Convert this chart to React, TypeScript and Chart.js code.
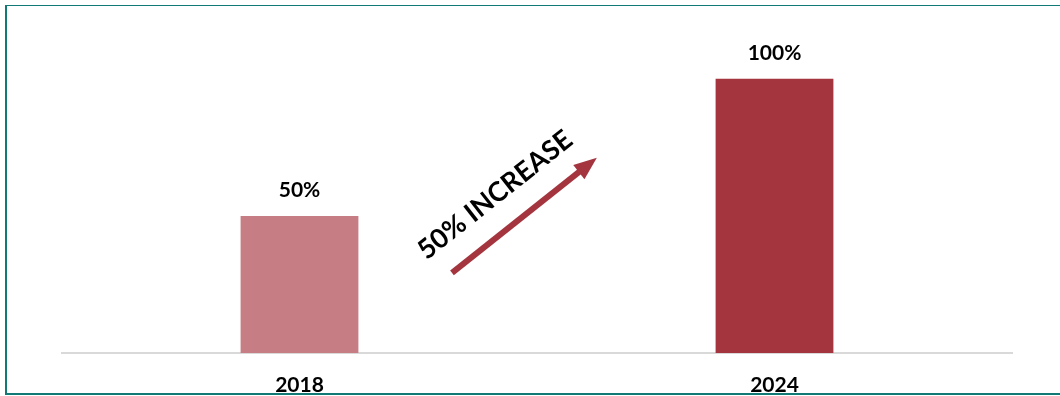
import React, { useEffect, useRef } from "react";
import { Chart, registerables } from "chart.js";

Chart.register(...registerables);

const categories = ["2018", "2024"];
const values = [50, 100];
const valueLabels = ["50%", "100%"];
const barColors = ["#c67d84", "#a4353f"];
const arrowText = "50% INCREASE";

// annotation placement (fraction between category centres, value on y scale)
const ARROW_START = { f: 0.321, v: 29.2 };
const ARROW_END = { f: 0.626, v: 71.2 };
const TEXT_POS = { f: 0.412, v: 57.6 };
const FONT = "Lato, 'Open Sans', sans-serif";

const overlayPlugin = {
  id: "overlay",
  afterDatasetsDraw(chart: any) {
    const ctx = chart.ctx;
    const meta = chart.getDatasetMeta(0);
    ctx.save();
    // value labels
    ctx.fillStyle = "#000";
    ctx.font = `bold 21px ${FONT}`;
    ctx.textAlign = "center";
    ctx.textBaseline = "middle";
    meta.data.forEach((bar: any, i: number) => {
      ctx.fillText(valueLabels[i], bar.x, bar.y - 26);
    });
    // arrow
    const xs = chart.scales.x;
    const ys = chart.scales.y;
    const x0 = xs.getPixelForValue(0);
    const x1 = xs.getPixelForValue(1);
    const d = x1 - x0;
    const sx = x0 + ARROW_START.f * d;
    const sy = ys.getPixelForValue(ARROW_START.v);
    const ex = x0 + ARROW_END.f * d;
    const ey = ys.getPixelForValue(ARROW_END.v);
    const ang = Math.atan2(ey - sy, ex - sx);
    const headLen = 23;
    const headHalf = 9;
    const bx = ex - headLen * Math.cos(ang);
    const by = ey - headLen * Math.sin(ang);
    ctx.strokeStyle = "#a4353f";
    ctx.fillStyle = "#a4353f";
    ctx.lineWidth = 6;
    ctx.lineCap = "butt";
    ctx.beginPath();
    ctx.moveTo(sx, sy);
    ctx.lineTo(bx + 2 * Math.cos(ang), by + 2 * Math.sin(ang));
    ctx.stroke();
    ctx.beginPath();
    ctx.moveTo(ex, ey);
    ctx.lineTo(bx + headHalf * Math.sin(ang), by - headHalf * Math.cos(ang));
    ctx.lineTo(bx - headHalf * Math.sin(ang), by + headHalf * Math.cos(ang));
    ctx.closePath();
    ctx.fill();
    // rotated text
    const tx = x0 + TEXT_POS.f * d;
    const ty = ys.getPixelForValue(TEXT_POS.v);
    ctx.translate(tx, ty);
    ctx.rotate(ang);
    ctx.fillStyle = "#000";
    ctx.font = `bold 27px ${FONT}`;
    ctx.textAlign = "center";
    ctx.textBaseline = "middle";
    ctx.fillText(arrowText, 0, 0);
    ctx.restore();
  },
};

export default function App() {
  const ref = useRef<HTMLCanvasElement | null>(null);
  useEffect(() => {
    if (!ref.current) return;
    const chart = new Chart(ref.current, {
      type: "bar",
      data: {
        labels: categories,
        datasets: [
          {
            data: values,
            backgroundColor: barColors,
            borderWidth: 0,
            barPercentage: 0.248,
            categoryPercentage: 1,
          },
        ],
      },
      options: {
        animation: false,
        responsive: false,
        maintainAspectRatio: false,
        layout: { padding: { left: 62, right: 48, top: 24, bottom: 0 } },
        plugins: { legend: { display: false }, tooltip: { enabled: false } },
        scales: {
          x: {
            grid: { display: false, drawTicks: false },
            border: { display: true, color: "#d9d9d9", width: 2 },
            ticks: {
              color: "#000",
              font: { family: FONT, size: 21, weight: "bold" },
              padding: 20,
            },
            afterFit: (scale: any) => {
              scale.height = 43;
            },
          },
          y: {
            display: false,
            min: 0,
            max: 120,
          },
        },
      },
      plugins: [overlayPlugin],
    });
    return () => chart.destroy();
  }, []);
  return (
    <div style={{ position: "absolute", left: 0, top: 0, width: 1060, height: 396, background: "#fff", overflow: "hidden" }}>
      <canvas ref={ref} width={1060} height={396} style={{ position: "absolute", left: 0, top: 0 }} />
      <div
        style={{
          position: "absolute",
          left: 5,
          top: 5,
          width: 1055,
          height: 390,
          boxSizing: "border-box",
          borderLeft: "2px solid #117a77",
          borderTop: "1px solid #117a77",
          borderBottom: "2px solid #117a77",
          pointerEvents: "none",
        }}
      />
    </div>
  );
}
